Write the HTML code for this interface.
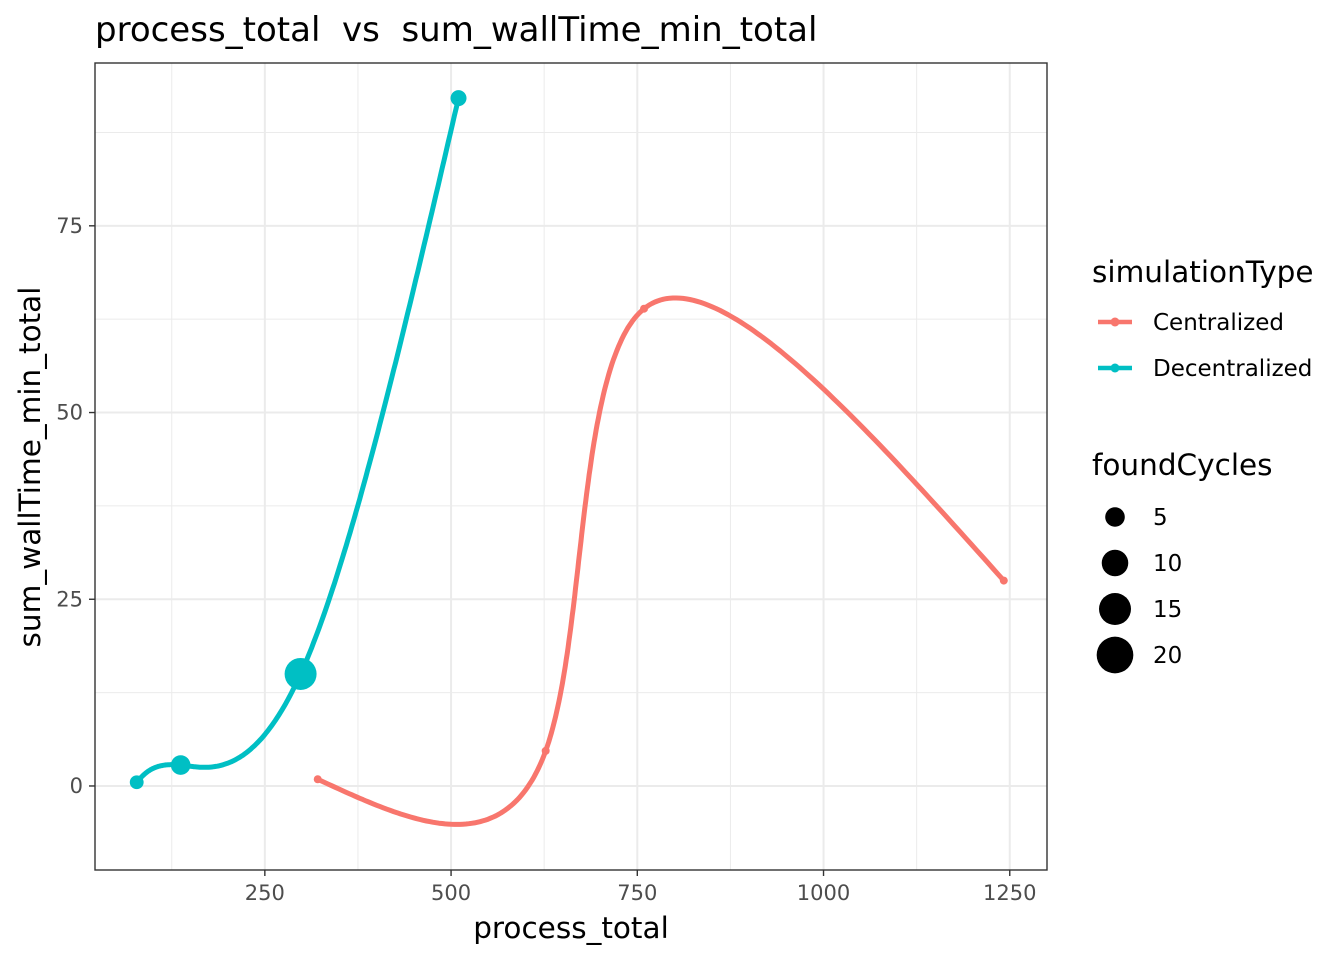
<!DOCTYPE html>
<html><head><meta charset="utf-8"><style>
html,body{margin:0;padding:0;background:#fff}
svg{display:block;font-family:"DejaVu Sans","Liberation Sans",sans-serif}
</style></head><body>
<svg id="chart" width="1344" height="960" viewBox="0 0 1344 960">
<text x="95" y="41" font-size="34" fill="#000" style="white-space:pre" xml:space="preserve">process_total  vs  sum_wallTime_min_total</text>
<g id="grid"></g>
<g id="series"></g>
<rect x="95" y="63" width="952" height="807" fill="none" stroke="#333" stroke-width="1.4"/>
<g id="axes"></g>
<text x="571" y="938" font-size="29.5" text-anchor="middle">process_total</text>
<text x="0" y="0" font-size="29.5" text-anchor="middle" transform="translate(40,467) rotate(-90)">sum_wallTime_min_total</text>
<g>
<text x="1092" y="282" font-size="29.5">simulationType</text>
<g>
<line x1="1098" y1="322" x2="1132" y2="322" stroke="#F8766D" stroke-width="4.5"/><circle cx="1115" cy="322" r="4.5" fill="#F8766D"/>
<text x="1153" y="330" font-size="23">Centralized</text></g>
<g>
<line x1="1098" y1="368" x2="1132" y2="368" stroke="#00BFC4" stroke-width="4.5"/><circle cx="1115" cy="368" r="4.5" fill="#00BFC4"/>
<text x="1153" y="376" font-size="23">Decentralized</text></g>
</g>
<g id="sizeLegend">
<text x="1092" y="475" font-size="29.5">foundCycles</text>
</g>
</svg>
<script>
const xTicks=[250,500,750,1000,1250];
const yTicks=[0,25,50,75];
const xMinor=[125,375,625,875,1125];
const yMinor=[12.5,37.5,62.5,87.5];
const centralX=[321,627,759,1242];
const centralY=[0.9,4.7,63.9,27.5];
const centralCycles=[0,0,0,0];
const decentralX=[78,137,298,510];
const decentralY=[0.5,2.8,15,92.1];
const decentralCycles=[2,5,15,3];
const sizeLegendValues=[5,10,15,20];

const NS="http://www.w3.org/2000/svg";
const X0=95,X1=1047,Y0=63,Y1=870;
const xmin=22,xmax=1300,ymin=-11.25,ymax=96.8;
function sx(v){return X0+(v-xmin)/(xmax-xmin)*(X1-X0);}
function sy(v){return Y1-(v-ymin)/(ymax-ymin)*(Y1-Y0);}
function rad(v){return Math.sqrt(16+16*v);}
function mk(tag,attrs,parent){const e=document.createElementNS(NS,tag);for(const k in attrs)e.setAttribute(k,attrs[k]);parent.appendChild(e);return e;}
const grid=document.getElementById('grid'),axes=document.getElementById('axes'),series=document.getElementById('series');
mk('rect',{x:X0,y:Y0,width:X1-X0,height:Y1-Y0,fill:'#fff'},grid);
xMinor.forEach(v=>{const l=mk('line',{x1:sx(v),x2:sx(v),y1:Y0,y2:Y1,stroke:'#ebebeb','stroke-width':1},grid);});
yMinor.forEach(v=>{const l=mk('line',{x1:X0,x2:X1,y1:sy(v),y2:sy(v),stroke:'#ebebeb','stroke-width':1},grid);});
xTicks.forEach(v=>{const l=mk('line',{x1:sx(v),x2:sx(v),y1:Y0,y2:Y1,stroke:'#ebebeb','stroke-width':2},grid);
 const t=mk('line',{x1:sx(v),x2:sx(v),y1:Y1,y2:Y1+6,stroke:'#333','stroke-width':1.4},axes);
 const tx=mk('text',{x:sx(v),y:Y1+30,'font-size':21,'text-anchor':'middle',fill:'#4d4d4d'},axes);tx.textContent=v;});
yTicks.forEach(v=>{const l=mk('line',{x1:X0,x2:X1,y1:sy(v),y2:sy(v),stroke:'#ebebeb','stroke-width':2},grid);
 const t=mk('line',{x1:X0-6,x2:X0,y1:sy(v),y2:sy(v),stroke:'#333','stroke-width':1.4},axes);
 const tx=mk('text',{x:X0-12,y:sy(v)+7,'font-size':21,'text-anchor':'end',fill:'#4d4d4d'},axes);tx.textContent=v;});
// natural cubic spline with uniform parameter
function nat(vals){const n=vals.length,M=new Array(n).fill(0);
 // tridiagonal solve for interior second derivatives (h=1)
 const a=[],b=[],c=[],d=[];
 for(let i=1;i<n-1;i++){a.push(1);b.push(4);c.push(1);d.push(6*(vals[i+1]-2*vals[i]+vals[i-1]));}
 const m=d.length;
 for(let i=1;i<m;i++){const w=a[i]/b[i-1];b[i]-=w*c[i-1];d[i]-=w*d[i-1];}
 const s=new Array(m);
 for(let i=m-1;i>=0;i--){s[i]=(d[i]-(i<m-1?c[i]*s[i+1]:0))/b[i];}
 for(let i=0;i<m;i++)M[i+1]=s[i];
 return function(j,t){const y0=vals[j],y1=vals[j+1],m0=M[j],m1=M[j+1];
  return (1-t)*y0+t*y1+((1-t)*((1-t)*(1-t)-1)*m0+t*(t*t-1)*m1)/6;};}
function spline(xs,ys){const px=xs.map(sx),py=ys.map(sy);const fx=nat(px),fy=nat(py);const pts=[];
 for(let j=0;j<xs.length-1;j++){for(let k=0;k<=80;k++){const t=k/80;pts.push([fx(j,t),fy(j,t)]);}}
 return pts;}
function drawSeries(xs,ys,cyc,col,name){
 const pts=spline(xs,ys);
 const p=mk('path',{d:'M'+pts.map(q=>q[0].toFixed(1)+','+q[1].toFixed(1)).join('L'),fill:'none',stroke:col,'stroke-width':5,'stroke-linejoin':'round'},series);
 
 xs.forEach((v,i)=>{const c=mk('circle',{cx:sx(v),cy:sy(ys[i]),r:rad(cyc[i]),fill:col},series);
  });}
drawSeries(centralX,centralY,centralCycles,'#F8766D','centralized');
drawSeries(decentralX,decentralY,decentralCycles,'#00BFC4','decentralized');
const sl=document.getElementById('sizeLegend');
sizeLegendValues.forEach((v,i)=>{const y=517+i*46;
 const c=mk('circle',{cx:1115,cy:y,r:rad(v),fill:'#000'},sl);
 const t=mk('text',{x:1153,y:y+8,'font-size':23},sl);t.textContent=v;});
</script>
</body></html>
